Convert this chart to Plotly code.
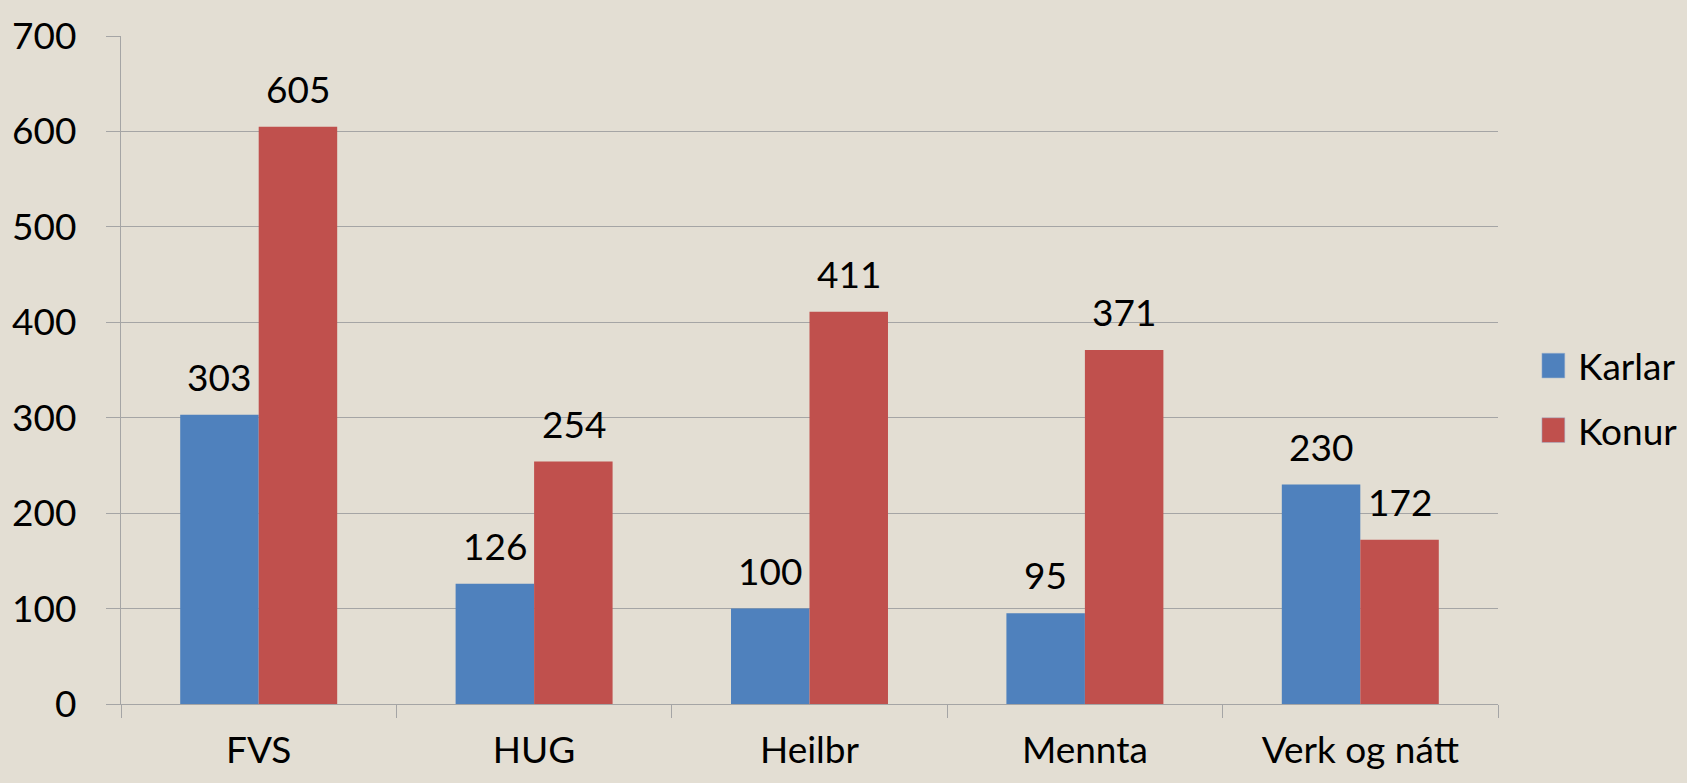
import plotly.graph_objects as go

categories = ["FVS", "HUG", "Heilbr", "Mennta", "Verk og nátt"]
karlar = [303, 126, 100, 95, 230]
konur = [605, 254, 411, 371, 172]
series_names = ["Karlar", "Konur"]
colors = ["#4F81BD", "#C0504D"]
y_ticks = [0, 100, 200, 300, 400, 500, 600, 700]

FONT = "Lato"
FS = 37
BG = "#E3DED3"
GRID = "#A5A5A5"

fig = go.Figure()
for name, vals, col in zip(series_names, [karlar, konur], colors):
    fig.add_trace(go.Bar(x=categories, y=vals, name=name, marker_color=col,
                         marker_line_width=0, showlegend=False))

# data labels
for vals, shift in zip([karlar, konur], [-39.5, 39.5]):
    for c, v in zip(categories, vals):
        fig.add_annotation(x=c, y=v, text=str(v), showarrow=False, xshift=shift,
                           yanchor="bottom", yshift=14,
                           font=dict(family=FONT, size=FS, color="black"))

# legend (drawn to match the large swatches)
leg_y = [0.5066, 0.41]
for name, col, yc in zip(series_names, colors, leg_y):
    fig.add_shape(type="rect", xref="paper", yref="paper",
                  x0=1.0319, x1=1.0485, y0=yc - 0.0185, y1=yc + 0.0185,
                  fillcolor=col, line=dict(width=0.5, color="#9DB3CF"))
    fig.add_annotation(xref="paper", yref="paper", x=1.057, y=yc, text=name,
                       showarrow=False, xanchor="left", yanchor="middle",
                       font=dict(family=FONT, size=FS, color="black"))

fig.update_layout(
    width=1687, height=783,
    paper_bgcolor=BG, plot_bgcolor=BG,
    margin=dict(l=117, r=189, t=31, b=75),
    barmode="group", bargap=0.43, bargroupgap=0,
    font=dict(family=FONT, size=FS, color="black"),
    showlegend=False,
)
fig.update_yaxes(range=[0, 700], tickvals=y_ticks, showgrid=True, gridcolor=GRID, gridwidth=1.3,
                 showline=True, linecolor=GRID, linewidth=1.3, ticks="outside", ticklen=14,
                 tickcolor=GRID, tickwidth=1.3, zeroline=False, ticklabelstandoff=22,
                 tickfont=dict(family=FONT, size=FS, color="black"))
fig.update_xaxes(showline=True, linecolor=GRID, linewidth=1.3, ticks="outside", tickson="boundaries",
                 ticklen=13, tickcolor=GRID, tickwidth=1.3, showgrid=False, ticklabelstandoff=13,
                 tickfont=dict(family=FONT, size=FS, color="black"))

fig.write_html("out.html", config={"displayModeBar": False},
               post_script="document.body.style.margin='0';document.body.style.overflow='hidden';"
                           "document.documentElement.style.overflow='hidden';window.scrollTo(0,0);")
